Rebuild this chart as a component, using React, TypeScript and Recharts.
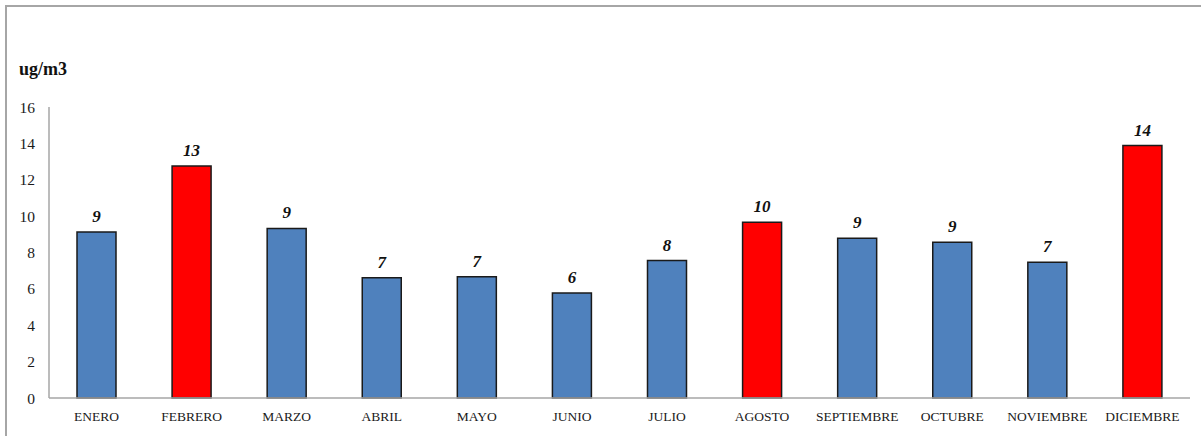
import React from "react";
import { BarChart, Bar, XAxis, YAxis, Cell, LabelList } from "recharts";

// Monthly average concentration (ug/m3)
const months = [
  "ENERO",
  "FEBRERO",
  "MARZO",
  "ABRIL",
  "MAYO",
  "JUNIO",
  "JULIO",
  "AGOSTO",
  "SEPTIEMBRE",
  "OCTUBRE",
  "NOVIEMBRE",
  "DICIEMBRE",
];
const concentration = [9.13, 12.75, 9.32, 6.61, 6.66, 5.77, 7.56, 9.66, 8.78, 8.56, 7.46, 13.88];
const yTicks = [0, 2, 4, 6, 8, 10, 12, 14, 16];
const unitLabel = "ug/m3";
// Months whose rounded value reaches this level are highlighted
const highlightLevel = 10;

const data = months.map((month, i) => ({ month, value: concentration[i] }));

const FONT = '"Liberation Serif", "Times New Roman", serif';
const BLUE = "#4F81BD";
const RED = "#FF0000";
const AXIS_GREY = "#A6A6A6";

export default function App() {
  return (
    <div
      style={{
        position: "absolute",
        left: 0,
        top: 0,
        width: 1201,
        height: 436,
        background: "#fff",
        overflow: "hidden",
        fontFamily: FONT,
      }}
    >
      <div
        style={{
          position: "absolute",
          left: 5,
          top: 5,
          width: 1300,
          height: 500,
          borderLeft: `2px solid ${AXIS_GREY}`,
          borderTop: `2px solid ${AXIS_GREY}`,
        }}
      />
      <div
        style={{
          position: "absolute",
          left: 19,
          top: 59,
          fontSize: 18,
          fontWeight: "bold",
          color: "#111",
          fontFamily: FONT,
        }}
      >
        {unitLabel}
      </div>
      <div style={{ position: "absolute", left: 0, top: 0 }}>
        <BarChart
          width={1201}
          height={436}
          data={data}
          margin={{ top: 107, right: 11, bottom: 0, left: 0 }}
        >
          <XAxis
            dataKey="month"
            height={38}
            tickLine={false}
            tickSize={6}
            tickMargin={7}
            interval={0}
            axisLine={{ stroke: AXIS_GREY, strokeWidth: 1.5 }}
            tick={{ fontSize: 13.5, fill: "#1a1a1a", fontFamily: FONT }}
          />
          <YAxis
            width={49}
            domain={[0, 16]}
            ticks={yTicks}
            interval={0}
            tickLine={false}
            tickSize={6}
            tickMargin={8}
            axisLine={{ stroke: AXIS_GREY, strokeWidth: 1.5 }}
            tick={{ fontSize: 15.5, fill: "#1a1a1a", fontFamily: FONT }}
          />
          <Bar
            dataKey="value"
            barSize={39}
            stroke="#1a1a1a"
            strokeWidth={1.5}
            isAnimationActive={false}
          >
            {data.map((d) => (
              <Cell
                key={d.month}
                fill={Math.round(d.value) >= highlightLevel ? RED : BLUE}
              />
            ))}
            <LabelList
              dataKey="value"
              position="top"
              offset={10}
              formatter={(v: number) => String(Math.round(v))}
              style={{
                fontSize: 17,
                fontWeight: "bold",
                fontStyle: "italic",
                fill: "#111",
                fontFamily: FONT,
              }}
            />
          </Bar>
        </BarChart>
      </div>
    </div>
  );
}
